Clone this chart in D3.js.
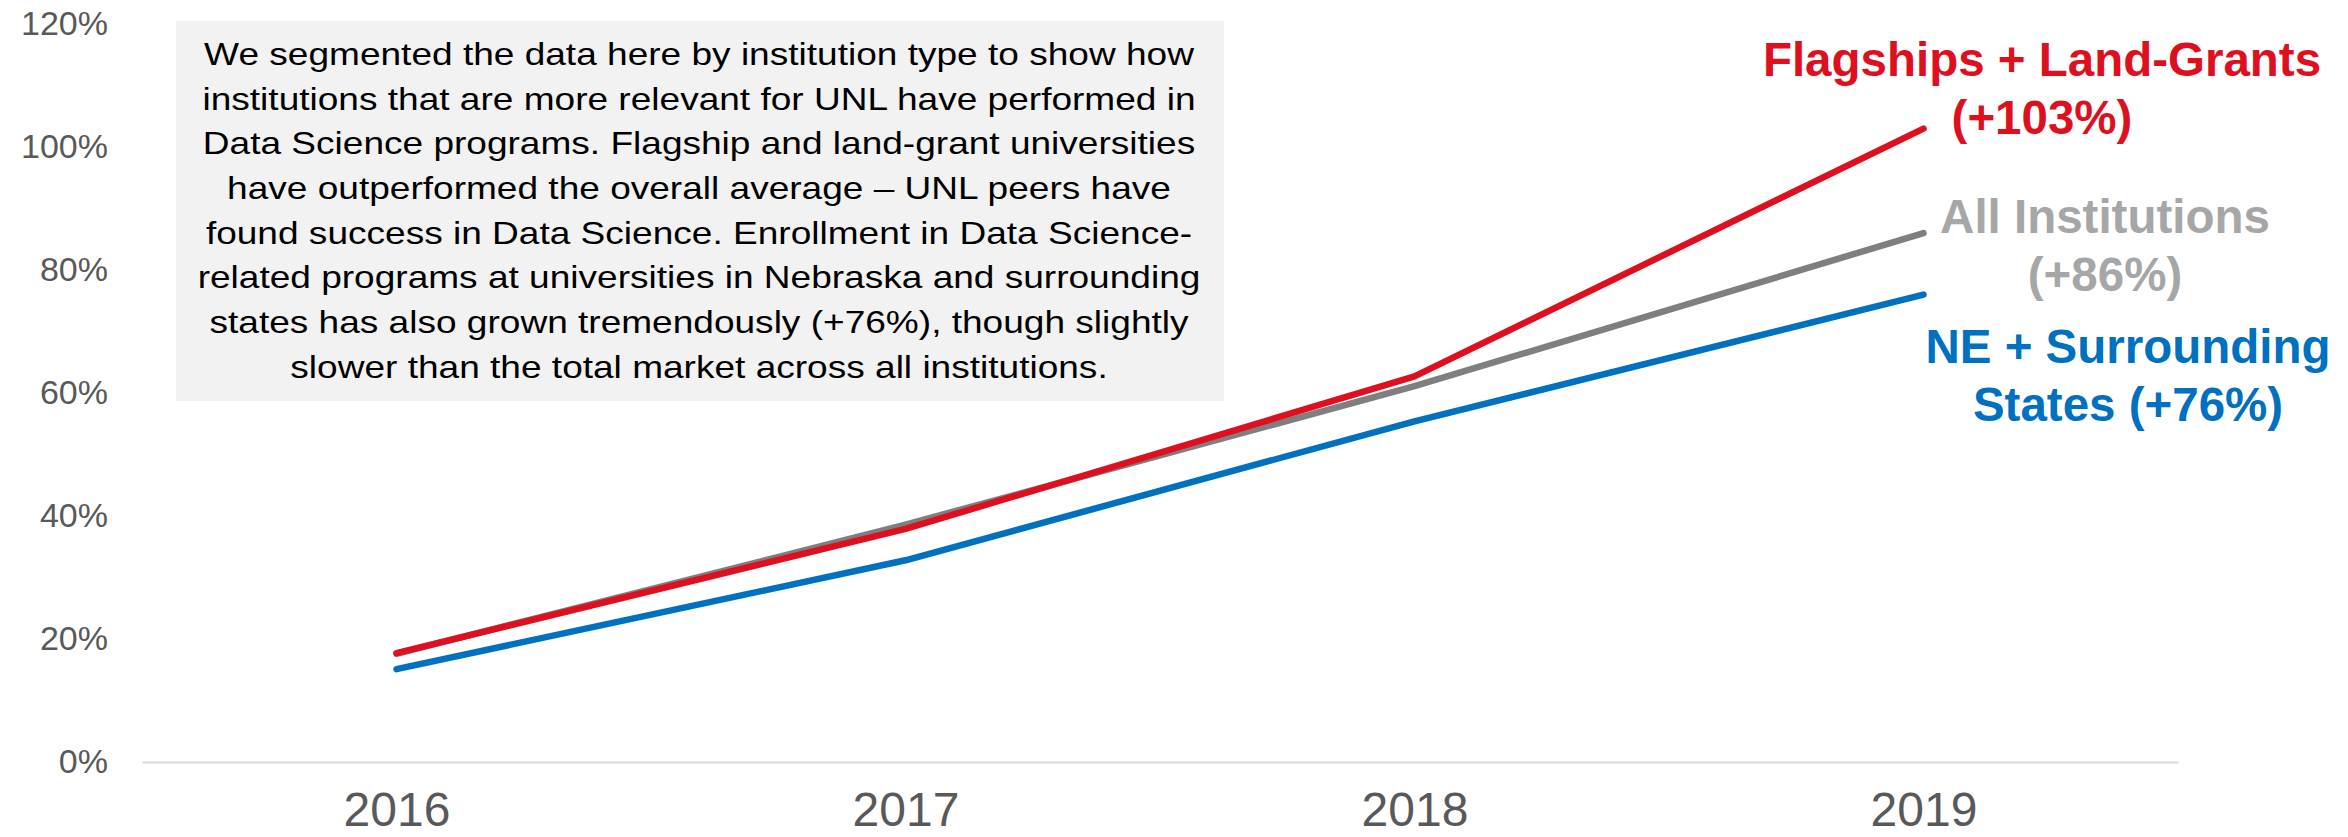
<!DOCTYPE html>
<html>
<head>
<meta charset="utf-8">
<script src="https://cdn.jsdelivr.net/npm/d3@7"></script>
<style>
  html, body { margin: 0; padding: 0; background: #ffffff; }
  svg { display: block; font-family: "Liberation Sans", Arial, sans-serif; }
</style>
</head>
<body>
<svg id="chart" width="2348" height="837"></svg>
<script>
// Growth in Data Science enrollment since 2015, by institution segment
const years = ["2016", "2017", "2018", "2019"];
const allInstitutions = [17.6, 38.6, 61.1, 86];
const neSurrounding = [15.1, 32.8, 55.4, 76];
const flagshipsLandGrants = [17.7, 37.9, 62.7, 103];
const yTicks = [0, 20, 40, 60, 80, 100, 120];

const seriesNames = ["All Institutions", "NE + Surrounding States", "Flagships + Land-Grants"];
const seriesLabels = [
  ["All Institutions", "(+86%)"],
  ["NE + Surrounding", "States (+76%)"],
  ["Flagships + Land-Grants", "(+103%)"]
];
const noteLines = [
  "We segmented the data here by institution type to show how",
  "institutions that are more relevant for UNL have performed in",
  "Data Science programs. Flagship and land-grant universities",
  "have outperformed the overall average \u2013 UNL peers have",
  "found success in Data Science. Enrollment in Data Science-",
  "related programs at universities in Nebraska and surrounding",
  "states has also grown tremendously (+76%), though slightly",
  "slower than the total market across all institutions."
];

const colors = ["#7f7f7f", "#0070c0", "#de1020"];
const labelColors = ["#a6a6a6", "#0070c0", "#de1020"];

const svg = d3.select("#chart");

const x = d3.scalePoint().domain(years).range([142, 2178]).padding(0.5);
const y = d3.scaleLinear().domain([0, 120]).range([762, 24]);

// x axis: light baseline, large year labels
const xAxis = svg.append("g")
  .attr("transform", `translate(0,${y(0)})`)
  .call(d3.axisBottom(x).tickSize(0).tickPadding(30).tickSizeOuter(0));
xAxis.select(".domain").attr("stroke", "#d9d9d9").attr("stroke-width", 2);
xAxis.selectAll("text")
  .attr("fill", "#595959")
  .style("font-size", "48px")
  .style("font-family", "'Liberation Sans', Arial, sans-serif");

// y axis: percentage labels only
const yAxis = svg.append("g")
  .attr("transform", "translate(118,0)")
  .call(d3.axisLeft(y).tickValues(yTicks).tickFormat(d => d + "%").tickSize(0).tickPadding(10));
yAxis.select(".domain").remove();
yAxis.selectAll("text")
  .attr("fill", "#595959")
  .style("font-size", "34px")
  .style("font-family", "'Liberation Sans', Arial, sans-serif");

// annotation box
const boxG = svg.append("g");
boxG.append("rect")
  .attr("x", 176).attr("y", 21)
  .attr("width", 1048).attr("height", 380)
  .attr("fill", "#f2f2f2");
const noteCx = 699;
const noteText = boxG.selectAll("text.note")
  .data(noteLines)
  .join("text")
  .attr("class", "note")
  .attr("text-anchor", "middle")
  .attr("x", 0)
  .attr("y", (d, i) => 65 + i * 44.7)
  .attr("fill", "#000000")
  .style("font-size", "32px")
  .text(d => d);
// condense the note lines horizontally so the first line spans its box width
const firstWidth = noteText.node().getComputedTextLength();
const k = 990 / firstWidth;
noteText.attr("transform", `translate(${noteCx},0) scale(${k},1)`);

// series lines
const line = d3.line()
  .x((d, i) => x(years[i]))
  .y(d => y(d));
const seriesData = [allInstitutions, neSurrounding, flagshipsLandGrants];
svg.append("g").selectAll("path")
  .data(seriesData)
  .join("path")
  .attr("d", d => line(d))
  .attr("fill", "none")
  .attr("stroke", (d, i) => colors[i])
  .attr("stroke-width", 6.5)
  .attr("stroke-linecap", "round")
  .attr("stroke-linejoin", "round");

// end-of-line series labels
const labelPos = [
  { cx: 2105, base: 233 },
  { cx: 2128, base: 363 },
  { cx: 2042, base: 76 }
];
const lab = svg.append("g").selectAll("g")
  .data(seriesLabels)
  .join("g");
lab.each(function (lines, i) {
  d3.select(this).selectAll("text")
    .data(lines)
    .join("text")
    .attr("x", labelPos[i].cx)
    .attr("y", (d, j) => labelPos[i].base + j * 58)
    .attr("text-anchor", "middle")
    .attr("fill", labelColors[i])
    .style("font-size", "47.5px")
    .style("font-weight", "bold")
    .text(d => d);
});
</script>
</body>
</html>
